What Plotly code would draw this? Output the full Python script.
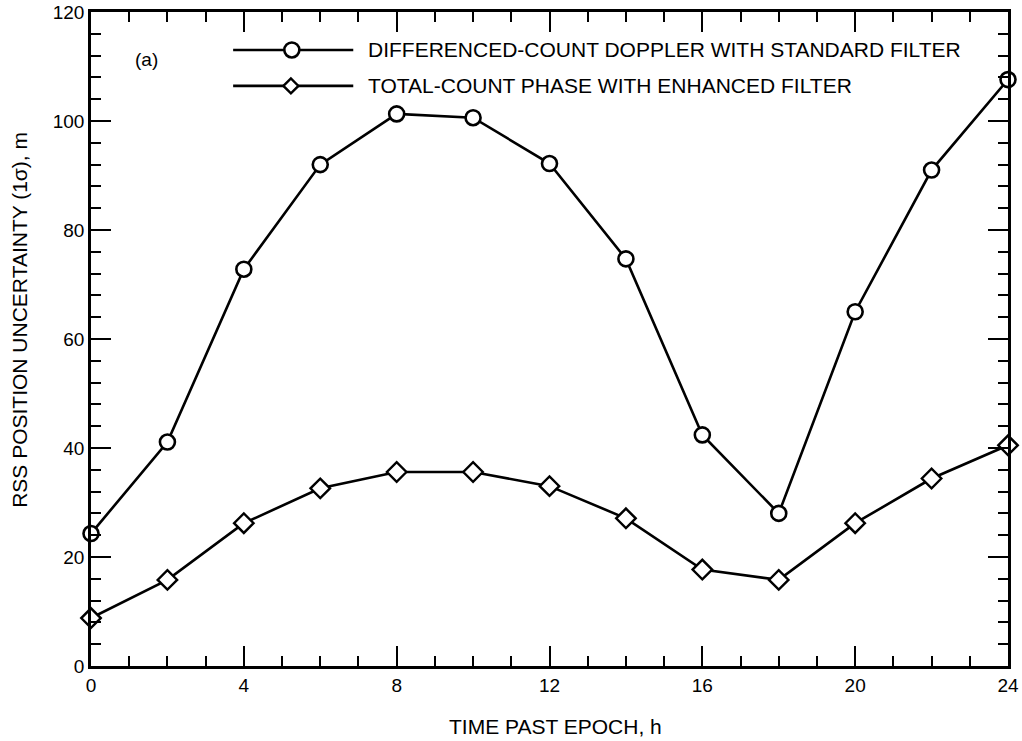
import plotly.graph_objects as go

hours = [0, 2, 4, 6, 8, 10, 12, 14, 16, 18, 20, 22, 24]
doppler_standard = [24.3, 41.1, 72.8, 92.0, 101.3, 100.6, 92.2, 74.7, 42.4, 28.0, 65.0, 91.0, 107.6]
phase_enhanced = [8.8, 15.8, 26.2, 32.6, 35.6, 35.6, 33.0, 27.1, 17.7, 15.8, 26.2, 34.4, 40.5]
legend_labels = ["DIFFERENCED-COUNT DOPPLER WITH STANDARD FILTER",
                 "TOTAL-COUNT PHASE WITH ENHANCED FILTER"]
panel_label = "(a)"
x_title = "TIME PAST EPOCH, h"
y_title = "RSS POSITION UNCERTAINTY (1σ), m"

FONT = "Liberation Sans, Arial, Helvetica, sans-serif"

fig = go.Figure()
fig.add_trace(go.Scatter(
    x=hours, y=doppler_standard, mode="lines+markers", name=legend_labels[0],
    line=dict(color="black", width=2.6),
    marker=dict(symbol="circle", size=15, color="white", line=dict(color="black", width=2.6)),
    cliponaxis=False, showlegend=False))
fig.add_trace(go.Scatter(
    x=hours, y=phase_enhanced, mode="lines+markers", name=legend_labels[1],
    line=dict(color="black", width=2.6),
    marker=dict(symbol="diamond", size=15, color="white", line=dict(color="black", width=2.4)),
    cliponaxis=False, showlegend=False))

# hand-drawn style legend inside the plot (paper coordinates)
rows = [(0.942, "circle"), (0.887, "diamond")]
for (yy, sym), label in zip(rows, legend_labels):
    fig.add_shape(type="line", xref="paper", yref="paper", x0=0.155, x1=0.286, y0=yy, y1=yy,
                  line=dict(color="black", width=2.6))
    if sym == "circle":
        fig.add_shape(type="circle", xref="paper", yref="paper", xsizemode="pixel", ysizemode="pixel",
                      xanchor=0.219, yanchor=yy, x0=-7.5, x1=7.5, y0=-7.5, y1=7.5,
                      fillcolor="white", line=dict(color="black", width=2.6))
    else:
        fig.add_shape(type="path", xref="paper", yref="paper", xsizemode="pixel", ysizemode="pixel",
                      xanchor=0.218, yanchor=yy, path="M -7.5 0 L 0 7.5 L 7.5 0 L 0 -7.5 Z",
                      fillcolor="white", line=dict(color="black", width=2.4))
    fig.add_annotation(xref="paper", yref="paper", x=0.300, y=yy, text=label, showarrow=False,
                       xanchor="left", yanchor="middle", font=dict(family=FONT, size=21, color="black"))

fig.add_annotation(xref="paper", yref="paper", x=0.046, y=0.927, text=panel_label, showarrow=False,
                   xanchor="left", yanchor="middle", font=dict(family=FONT, size=19, color="black"))

# axis titles placed as annotations for precise positioning
fig.add_annotation(xref="paper", yref="paper", x=0.507, y=-0.093, text=x_title, showarrow=False,
                   xanchor="center", yanchor="middle", font=dict(family=FONT, size=21, color="black"))
fig.add_annotation(xref="paper", yref="paper", x=-0.078, y=0.53, text=y_title, showarrow=False,
                   textangle=-90, xanchor="center", yanchor="middle",
                   font=dict(family=FONT, size=21, color="black"))

axis_common = dict(
    showgrid=False, zeroline=False, showline=True, linecolor="black", linewidth=2.6,
    mirror="ticks", ticks="inside", ticklen=20, tickwidth=2, tickcolor="black",
    tickfont=dict(family=FONT, size=19, color="black"), automargin=False,
    ticklabeloverflow="allow",
)
fig.update_xaxes(range=[0, 24], dtick=4, tick0=0,
                 minor=dict(dtick=1, ticks="inside", ticklen=10, tickwidth=2, tickcolor="black"),
                 **axis_common)
fig.update_yaxes(range=[0, 120], dtick=20, tick0=0,
                 minor=dict(dtick=4, ticks="inside", ticklen=10, tickwidth=2, tickcolor="black"),
                 **axis_common)

fig.update_layout(
    width=1022, height=741,
    margin=dict(l=91, r=14, t=12, b=75),
    paper_bgcolor="white", plot_bgcolor="white",
    font=dict(family=FONT, size=19, color="black"),
)

# remove the default page margin so the figure fills the window exactly
fig.write_html("out.html",
               config={"displayModeBar": False},
               post_script="document.body.style.margin='0';document.body.style.overflow='hidden';")
